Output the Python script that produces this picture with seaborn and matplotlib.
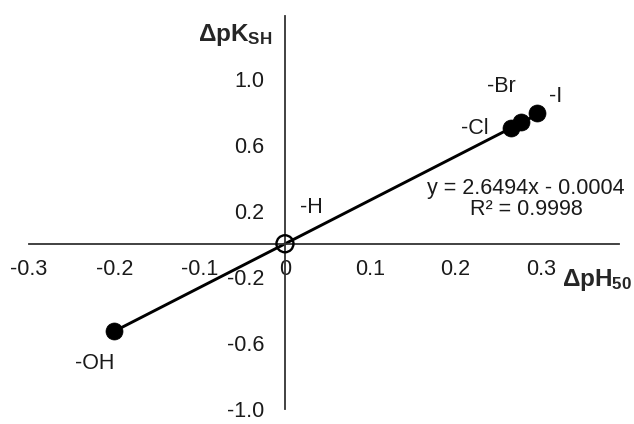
import numpy as np
import pandas as pd
import seaborn as sns
import matplotlib.pyplot as plt

# data
groups = ['-OH', '-H', '-Cl', '-Br', '-I']
dph50 = [-0.20, 0.0, 0.265, 0.277, 0.295]
dpksh = [-0.53, 0.0, 0.70, 0.74, 0.79]
slope = 2.6494
intercept = -0.0004
r2 = 0.9998
x_ticks = [-0.3, -0.2, -0.1, 0.0, 0.1, 0.2, 0.3]
x_ticklabels = ['-0.3', '-0.2', '-0.1', '0', '0.1', '0.2', '0.3']
y_ticks = [-1.0, -0.6, -0.2, 0.2, 0.6, 1.0]
y_ticklabels = ['-1.0', '-0.6', '-0.2', '0.2', '0.6', '1.0']

sns.set_style('white')
plt.rcParams['font.family'] = ['Liberation Sans', 'DejaVu Sans']
plt.rcParams['mathtext.fontset'] = 'custom'
plt.rcParams['mathtext.rm'] = 'Liberation Sans'
plt.rcParams['mathtext.bf'] = 'Liberation Sans:bold'

df = pd.DataFrame({'group': groups, 'x': dph50, 'y': dpksh})
filled = df[df['group'] != '-H']
hollow = df[df['group'] == '-H']

# trend line over data range
fit_x = np.array([df['x'].min(), df['x'].max()])
fit = pd.DataFrame({'x': fit_x, 'y': slope * fit_x + intercept})

fig = plt.figure(figsize=(6.34, 4.24), dpi=100)
ax = fig.add_axes([0.0457, 0.036, 0.930, 0.926])

axis_col = '#333333'
txt_col = '#1a1a1a'
sns.lineplot(data=fit, x='x', y='y', color='black', linewidth=2.1, ax=ax, zorder=2)
sns.scatterplot(data=filled, x='x', y='y', s=150, color='black', edgecolor='black',
                linewidth=0.5, ax=ax, zorder=3)
sns.scatterplot(data=hollow, x='x', y='y', s=150, facecolor='none', edgecolor='black',
                linewidth=1.7, ax=ax, zorder=3)

ax.set_xlim(-0.3, 0.391)
ax.set_ylim(-1.0, 1.38)

ax.spines['left'].set_position(('data', 0))
ax.spines['bottom'].set_position(('data', 0))
ax.spines['right'].set_visible(False)
ax.spines['top'].set_visible(False)
for s in ['left', 'bottom']:
    ax.spines[s].set_color(axis_col)
    ax.spines[s].set_linewidth(1.3)

ax.set_xticks(x_ticks)
ax.set_xticklabels(x_ticklabels)
ax.set_yticks(y_ticks)
ax.set_yticklabels(y_ticklabels)
ax.tick_params(axis='x', direction='in', length=4, width=1.3, color=axis_col,
               pad=11, labelsize=15.5, labelcolor=txt_col)
ax.tick_params(axis='y', direction='out', length=4, width=1.3, color=axis_col,
               pad=11, labelsize=15.5, labelcolor=txt_col)
ax.set_xlabel('')
ax.set_ylabel('')

# point labels
offsets = {'-OH': (-14, -23), '-H': (19, 26), '-Cl': (-26, 0),
           '-Br': (-14, 25), '-I': (14, 12)}
for g, xv, yv in zip(groups, dph50, dpksh):
    ax.annotate(g, (xv, yv), xytext=offsets[g], textcoords='offset points',
                ha='center', va='center', fontsize=15.5, color=txt_col)

ax.text(0.2825, 0.272, f'y = {slope}x - {abs(intercept):.4f}\nR² = {r2}',
        ha='center', va='center', multialignment='center', fontsize=15.5,
        color=txt_col, linespacing=1.0)

fig.text(0.371, 0.917, r'$\mathbf{ΔpK_{SH}}$', ha='center', va='center', fontsize=17.5)
fig.text(0.942, 0.340, r'$\mathbf{ΔpH_{50}}$', ha='center', va='center', fontsize=17.5)

fig.savefig('out.png', dpi=100)
